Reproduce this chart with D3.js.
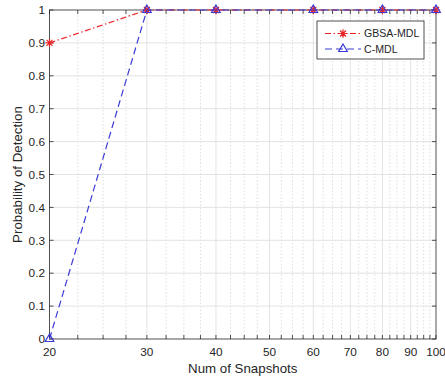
<!DOCTYPE html>
<html>
<head>
<meta charset="utf-8">
<script src="https://cdn.jsdelivr.net/npm/d3@7"></script>
<style>
  body { margin: 0; background: #fff; }
  text { font-family: "Liberation Sans", Arial, sans-serif; fill: #262626; }
</style>
</head>
<body>
<svg id="chart"></svg>
<script>
// data
const snapshots = [20, 30, 40, 60, 80, 100]
const gbsaMdl = [0.9, 1, 1, 1, 1, 1]
const cMdl = [0, 1, 1, 1, 1, 1]
const xTickValues = [20, 30, 40, 50, 60, 70, 80, 90, 100]
const yTickValues = [0, 0.1, 0.2, 0.3, 0.4, 0.5, 0.6, 0.7, 0.8, 0.9, 1]
const seriesNames = ["GBSA-MDL", "C-MDL"]

const width = 445, height = 379
const margin = {top: 10, right: 9, bottom: 40, left: 49.5}

const svg = d3.select("#chart")
              .attr("width", width)
              .attr("height", height)

const x = d3.scaleLog()
            .domain([20, 100])
            .range([margin.left, width - margin.right])
const y = d3.scaleLinear()
            .domain([0, 1])
            .range([height - margin.bottom, margin.top])

const x0 = x.range()[0], x1 = x.range()[1],
      y0 = y.range()[0], y1 = y.range()[1]

// minor ticks every 2.5 that are not a major tick
const minorX = d3.range(22.5, 100, 2.5).filter(v => v % 10 !== 0)

// grid
const grid = svg.append("g")
grid.selectAll(".minor")
    .data(minorX)
    .join("line")
    .attr("x1", d => x(d)).attr("x2", d => x(d))
    .attr("y1", y0).attr("y2", y1)
    .attr("stroke", "#d6d6d6")
    .attr("stroke-width", 0.8)
    .attr("stroke-dasharray", "1.5,2")
grid.selectAll(".vmaj")
    .data(xTickValues.slice(1, -1))
    .join("line")
    .attr("x1", d => x(d)).attr("x2", d => x(d))
    .attr("y1", y0).attr("y2", y1)
    .attr("stroke", "#e3e3e3")
grid.selectAll(".hmaj")
    .data(yTickValues.slice(1, -1))
    .join("line")
    .attr("x1", x0).attr("x2", x1)
    .attr("y1", d => y(d)).attr("y2", d => y(d))
    .attr("stroke", "#e3e3e3")

// axes (matlab style, ticks inward on all four sides)
const tickLen = 4
const axisG = svg.append("g")
              .attr("stroke", "#262626")
              .attr("stroke-width", 0.8)
axisG.append("rect")
     .attr("x", x0).attr("y", y1)
     .attr("width", x1 - x0).attr("height", y0 - y1)
     .attr("fill", "none")

const allX = xTickValues.concat(minorX)
axisG.selectAll(".xb")
     .data(allX)
     .join("line")
     .attr("x1", d => x(d)).attr("x2", d => x(d))
     .attr("y1", y0).attr("y2", y0 - tickLen)
axisG.selectAll(".xt")
     .data(allX)
     .join("line")
     .attr("x1", d => x(d)).attr("x2", d => x(d))
     .attr("y1", y1).attr("y2", y1 + tickLen)
axisG.selectAll(".yl")
     .data(yTickValues)
     .join("line")
     .attr("x1", x0).attr("x2", x0 + tickLen)
     .attr("y1", d => y(d)).attr("y2", d => y(d))
axisG.selectAll(".yr")
     .data(yTickValues)
     .join("line")
     .attr("x1", x1).attr("x2", x1 - tickLen)
     .attr("y1", d => y(d)).attr("y2", d => y(d))

svg.append("g").selectAll("text")
   .data(xTickValues)
   .join("text")
   .attr("x", d => x(d))
   .attr("y", y0 + 17)
   .attr("text-anchor", "middle")
   .attr("font-size", 11.8)
   .text(d => d)

svg.append("g").selectAll("text")
   .data(yTickValues)
   .join("text")
   .attr("x", x0 - 4.5)
   .attr("y", d => y(d) + 4.2)
   .attr("text-anchor", "end")
   .attr("font-size", 11.8)
   .text(d => d3.format("~g")(d))

svg.append("text")
   .attr("x", (x0 + x1) / 2)
   .attr("y", 373)
   .attr("text-anchor", "middle")
   .attr("font-size", 13.3)
   .text("Num of Snapshots")

svg.append("text")
   .attr("transform", `translate(21.5,${(y0 + y1) / 2}) rotate(-90)`)
   .attr("text-anchor", "middle")
   .attr("font-size", 13.3)
   .text("Probability of Detection")

// series
const red = "#ea2424", blue = "#3a3ad4"

// matlab '*' marker: a plus and a cross
const star8 = {
  draw(ctx, size){
    const r = Math.sqrt(size) / 2
    for (let k = 0; k < 4; k++){
      const a = k * Math.PI / 4
      ctx.moveTo(-r * Math.cos(a), -r * Math.sin(a))
      ctx.lineTo(r * Math.cos(a), r * Math.sin(a))
    }
  }
}
const starPath = d3.symbol().type(star8).size(70)
const triPath = d3.symbol().type(d3.symbolTriangle).size(32)

function drawSeries(vals, color, dash, sym){
  const pts = snapshots.map((s, i) => [x(s), y(vals[i])])
  svg.append("path")
     .attr("d", d3.line()(pts))
     .attr("fill", "none")
     .attr("stroke", color)
     .attr("stroke-width", 1.2)
     .attr("stroke-dasharray", dash)
  svg.append("g").selectAll("path")
     .data(pts)
     .join("path")
     .attr("transform", d => `translate(${d[0]},${d[1]})`)
     .attr("d", sym)
     .attr("fill", "none")
     .attr("stroke", color)
     .attr("stroke-width", 1.2)
}
drawSeries(gbsaMdl, red, "6,2.5,1.5,2.5", starPath)
drawSeries(cMdl, blue, "7,4", triPath)

// legend
const leg = svg.append("g")
leg.append("rect")
   .attr("x", 317).attr("y", 21)
   .attr("width", 107).attr("height", 38)
   .attr("fill", "#fff")
   .attr("stroke", "#262626")
   .attr("stroke-width", 0.8)
const legStyles = [[red, "6,2.5,1.5,2.5", starPath], [blue, "7,4", triPath]]
seriesNames.forEach((name, i) => {
  const ly = 33.5 + i * 15.5
  leg.append("line")
     .attr("x1", 325).attr("x2", 361)
     .attr("y1", ly).attr("y2", ly)
     .attr("stroke", legStyles[i][0])
     .attr("stroke-width", 1.2)
     .attr("stroke-dasharray", legStyles[i][1])
  leg.append("path")
     .attr("transform", `translate(343,${ly})`)
     .attr("d", legStyles[i][2])
     .attr("fill", "none")
     .attr("stroke", legStyles[i][0])
     .attr("stroke-width", 1.2)
  leg.append("text")
     .attr("x", 364)
     .attr("y", ly + 3.8)
     .attr("font-size", 10.6)
     .text(name)
})
</script>
</body>
</html>
